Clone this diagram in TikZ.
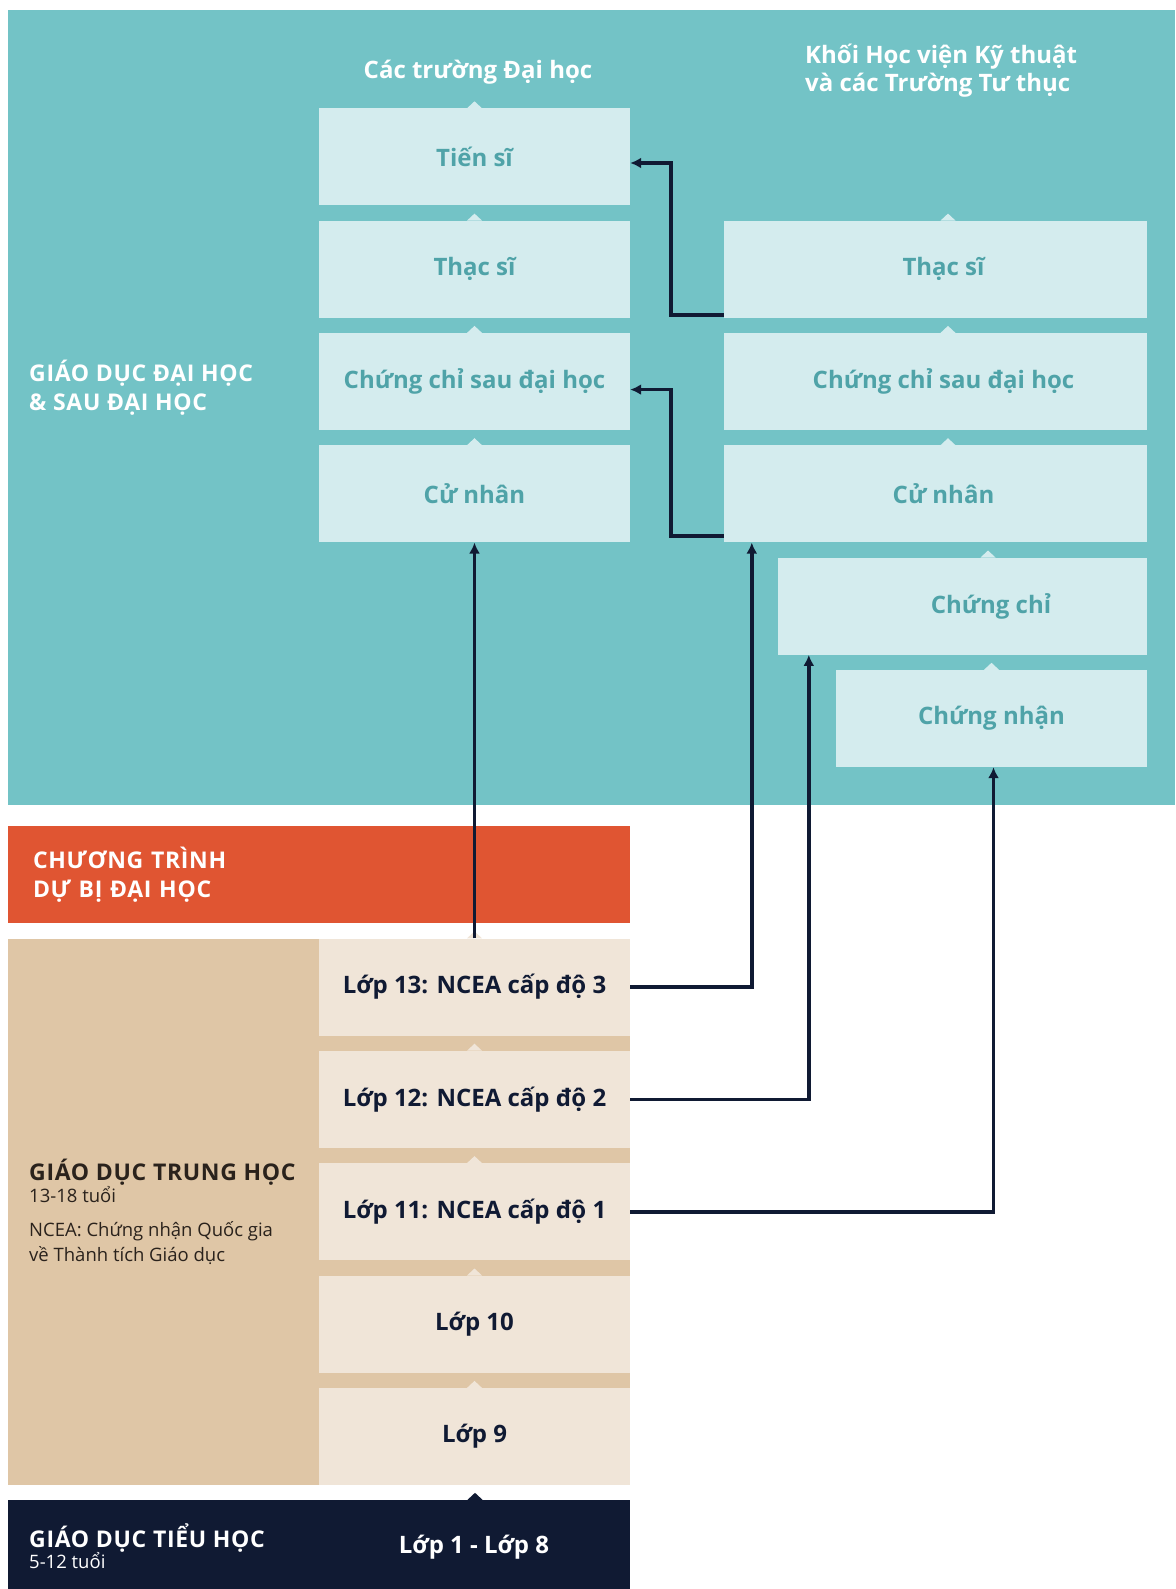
\documentclass[tikz,border=0pt]{standalone}
\usepackage{fontspec}
\setmainfont{Open Sans}
\newfontfamily\labelfont[LetterSpace=3]{Open Sans}
\usepackage{tikz}
\usetikzlibrary{arrows.meta}

\definecolor{tealbg}{HTML}{73C3C6}
\definecolor{boxlite}{HTML}{D4ECEE}
\definecolor{boxtext}{HTML}{4FA3A8}
\definecolor{orangebox}{HTML}{E05532}
\definecolor{tandark}{HTML}{DFC6A6}
\definecolor{tanlite}{HTML}{F0E5D8}
\definecolor{navy}{HTML}{101A33}
\definecolor{browntext}{HTML}{2A221C}

\begin{document}
\begin{tikzpicture}[x=1pt, y=-1pt,
    ubox/.style={fill=boxlite, text=boxtext, inner sep=0pt, minimum height=97pt,
        font=\bfseries\fontsize{24}{28}\selectfont},
    gbox/.style={fill=tanlite, text=navy, inner sep=0pt, minimum width=311pt, minimum height=97pt,
        font=\bfseries\fontsize{24}{28}\selectfont},
    head/.style={text=white, inner sep=0pt, font=\bfseries\fontsize{24}{28}\selectfont},
    sidelabel/.style={anchor=west, align=left, inner sep=0pt, font=\labelfont\bfseries\fontsize{23}{29}\selectfont},
    link/.style={draw=navy, line width=3.5pt, -{Latex[length=11pt,width=11pt]}}]
    \useasboundingbox (0,0) rectangle (1175,1589);

    	% Background areas:
    	\fill[tealbg] (8,10) rectangle (1175,805);
    	\fill[tandark] (8,939) rectangle (630,1485);

    	% University column:
    	\node[head] (H1) at (478,72) {Các trường Đại học};
    	\node[ubox, minimum width=311pt] (U1) at (474.5,157) {Tiến sĩ};
    	\node[ubox, minimum width=311pt] (U2) at (474.5,269.3) {Thạc sĩ};
    	\node[ubox, minimum width=311pt] (U3) at (474.5,381.6) {Chứng chỉ sau đại học};
    	\node[ubox, minimum width=311pt] (U4) at (474.5,493.9) {Cử nhân};

    	% Institutes and private schools column:
    	\node[head, anchor=west, align=left] (H2) at (805,71) {Khối Học viện Kỹ thuật\\và các Trường Tư thục};
    	\node[ubox, minimum width=423pt] (R1) at (935.5,269.3) {\hspace*{16pt}Thạc sĩ};
    	\node[ubox, minimum width=423pt] (R2) at (935.5,381.6) {\hspace*{16pt}Chứng chỉ sau đại học};
    	\node[ubox, minimum width=423pt] (R3) at (935.5,493.9) {\hspace*{16pt}Cử nhân};
    	\node[ubox, minimum width=369pt] (R4) at (962.5,606.2) {\hspace*{57pt}Chứng chỉ};
    	\node[ubox, minimum width=311pt] (R5) at (991.5,718.5) {Chứng nhận};

    	\node[sidelabel, text=white] (L1) at (29,387.5) {GIÁO DỤC ĐẠI HỌC\\\& SAU ĐẠI HỌC};

    	% Foundation, secondary and primary:
    	\node[fill=orangebox, text=white, inner xsep=25pt, inner ysep=0pt, text width=572pt,
    	    minimum height=96.5pt, align=left, font=\labelfont\bfseries\fontsize{23}{29}\selectfont]
    	    (O1) at (319,874.3) {CHƯƠNG TRÌNH\\DỰ BỊ ĐẠI HỌC};
    	\node[gbox] (G13) at (474.5,987) {Lớp 13: NCEA cấp độ 3};
    	\node[gbox] (G12) at (474.5,1099.4) {Lớp 12: NCEA cấp độ 2};
    	\node[gbox] (G11) at (474.5,1211.8) {Lớp 11: NCEA cấp độ 1};
    	\node[gbox] (G10) at (474.5,1324.2) {Lớp 10};
    	\node[gbox] (G9) at (474.5,1436.6) {Lớp 9};
    	\node[sidelabel, text=browntext] (L2) at (29,1172) {GIÁO DỤC TRUNG HỌC};
    	\node[sidelabel, text=browntext, font=\fontsize{18.5}{22}\selectfont] (L3) at (29,1195) {13-18 tuổi};
    	\node[sidelabel, text=browntext, font=\fontsize{18.5}{25}\selectfont] (L4) at (29,1243.5) {NCEA: Chứng nhận Quốc gia\\về Thành tích Giáo dục};

    	\node[fill=navy, inner sep=0pt, minimum width=622pt, minimum height=89pt] (N1) at (319,1544.5) {};
    	\node[sidelabel, text=white] (L5) at (29,1538) {GIÁO DỤC TIỂU HỌC};
    	\node[sidelabel, text=white, font=\fontsize{18.5}{22}\selectfont] (L6) at (29,1561) {5-12 tuổi};
    	\node[head] (N2) at (474,1547) {Lớp 1 - Lớp 8};

    	% Small notches on top of the boxes:
    	\foreach \n/\dx/\c in {U1/0/boxlite, U2/0/boxlite, U3/0/boxlite, U4/0/boxlite,
    	    R1/12.5/boxlite, R2/12.5/boxlite, R3/12.5/boxlite, R4/25.5/boxlite, R5/0/boxlite,
    	    G13/0/tanlite, G12/0/tanlite, G11/0/tanlite, G10/0/tanlite, G9/0/tanlite, N1/156/navy}
    	    \fill[\c] ([xshift=\dx-7.5]\n.north) -- ++(7.5,-7) -- ++(7.5,7) -- cycle;

    	% Wires:
    	\draw[link] (G13.north) -- (U4.south);
    	\draw[link] (G13.east) -| ([xshift=28pt]R3.south west);
    	\draw[link] (G12.east) -| ([xshift=31pt]R4.south west);
    	\draw[link] (G11.east) -| ([xshift=2pt]R5.south);
    	\draw[link] ([yshift=3pt]R1.south west) -| ([xshift=41pt,yshift=-6pt]U1.east) -- ([yshift=-6pt]U1.east);
    	\draw[link] ([yshift=6.5pt]R3.south west) -| ([xshift=41pt,yshift=-8pt]U3.east) -- ([yshift=-8pt]U3.east);
    \end{tikzpicture}
\end{document}
